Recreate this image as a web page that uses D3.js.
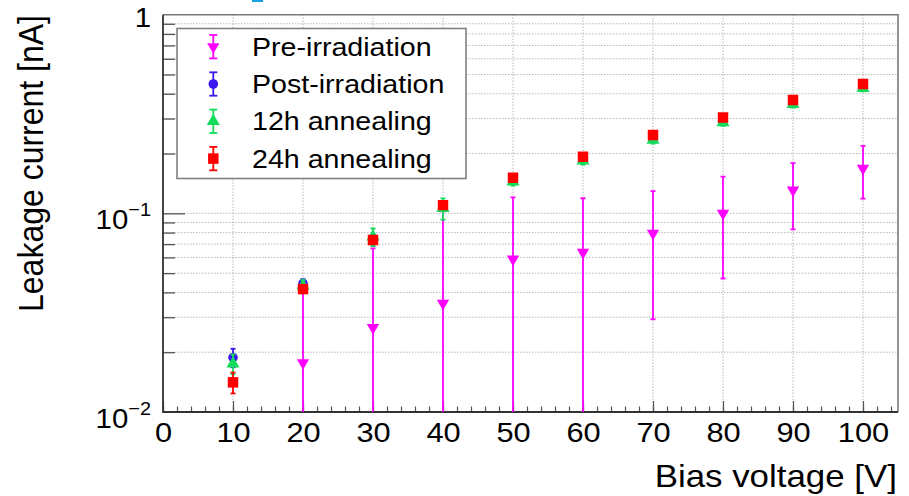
<!DOCTYPE html>
<html>
<head>
<meta charset="utf-8">
<script src="https://cdn.jsdelivr.net/npm/d3@7"></script>
<style>
  html, body { margin: 0; padding: 0; background: #fff; }
  svg { display: block; font-family: "Liberation Sans", Arial, Helvetica, sans-serif; }
</style>
</head>
<body>
<svg id="chart" width="909" height="496"></svg>
<script>
// Bias voltage points [V]
const voltages = [10, 20, 30, 40, 50, 60, 70, 80, 90, 100];
const preVoltages = [20, 30, 40, 50, 60, 70, 80, 90, 100];

// Leakage current [nA] and uncertainties
const preValues  = [0.0177, 0.0266, 0.0352, 0.0589, 0.0636, 0.0793, 0.100, 0.131, 0.1685];
const preErrors  = [0.024, 0.040, 0.067, 0.0615, 0.0555, 0.050, 0.053, 0.048, 0.050];

const postValues = [0.0188, 0.0444, 0.0748, 0.107, 0.146, 0.186, 0.237, 0.290, 0.359, 0.437];
const postErrors = [0.0020, 0.0022, 0.0030, 0.0045, 0.0055, 0.0070, 0.0085, 0.010, 0.012, 0.014];

const h12Values  = [0.0175, 0.0432, 0.0762, 0.106, 0.1443, 0.184, 0.234, 0.287, 0.354, 0.426];
const h12Errors  = [0.0020, 0.0030, 0.0077, 0.013, 0.0065, 0.0080, 0.0095, 0.011, 0.013, 0.015];

const h24Values  = [0.0141, 0.0416, 0.0734, 0.110, 0.1511, 0.1927, 0.2478, 0.304, 0.3717, 0.4474];
const h24Errors  = [0.0017, 0.0020, 0.0030, 0.0045, 0.0060, 0.0075, 0.0095, 0.011, 0.013, 0.016];

// Axis ticks
const xMajorTicks = [0, 10, 20, 30, 40, 50, 60, 70, 80, 90, 100];
const xMinorTicks = d3.range(0, 105, 2);
const yMajorTicks = [0.01, 0.1, 1];
const yMinorTicks = [0.02, 0.03, 0.04, 0.05, 0.06, 0.07, 0.08, 0.09, 0.2, 0.3, 0.4, 0.5, 0.6, 0.7, 0.8, 0.9];
const yTickLabels = [{ base: "10", exp: "\u22122" }, { base: "10", exp: "\u22121" }, { base: "1", exp: "" }];

const legendLabels = ["Pre-irradiation", "Post-irradiation", "12h annealing", "24h annealing"];

const colors = { pre: "#ff00ff", post: "#3a16f0", h12: "#14dc5a", h24: "#ff0000" };

const svg = d3.select("#chart");
const L = 163, R = 898, T = 14.7, B = 412;

const x = d3.scaleLinear().domain([0, 105]).range([L, R]);
const y = d3.scaleLog().domain([0.01, 1]).range([B, T]);

// Small cyan fragment at the top edge
svg.append("rect").attr("x", 252).attr("y", 0).attr("width", 11).attr("height", 2).attr("fill", "#1aa0e6");

// Grid
const grid = svg.append("g").attr("stroke", "#b8b8b8").attr("stroke-width", 1).attr("stroke-dasharray", "1.5,1.5");
grid.selectAll("line.v").data(xMajorTicks.filter(d => d > 0)).join("line")
  .attr("x1", d => x(d)).attr("x2", d => x(d)).attr("y1", B).attr("y2", T);
grid.selectAll("line.h").data(yMinorTicks.concat([0.1])).join("line")
  .attr("x1", L).attr("x2", R).attr("y1", d => y(d)).attr("y2", d => y(d));

// Frame (top and right)
svg.append("path").attr("d", `M${L},${T}H${R}V${B}`).attr("fill", "none").attr("stroke", "#7a7a7a").attr("stroke-width", 1.6);

// X axis (ticks point inward)
const xMajor = d3.axisBottom(x).tickValues(xMajorTicks).tickSizeInner(-11).tickSizeOuter(0).tickFormat(d3.format("d"));
const xMinor = d3.axisBottom(x).tickValues(xMinorTicks).tickSizeInner(-5.5).tickSizeOuter(0).tickFormat("");
const gxm = svg.append("g").attr("transform", `translate(0,${B})`).call(xMinor);
const gx = svg.append("g").attr("transform", `translate(0,${B})`).call(xMajor);
[gxm, gx].forEach(g => {
  g.select(".domain").remove();
  g.selectAll(".tick line").attr("stroke", "#555").attr("stroke-width", 1.2);
});
gx.selectAll(".tick text")
  .attr("y", 30).attr("dy", 0)
  .attr("font-size", 28).attr("fill", "#000")
  .attr("font-family", "Liberation Sans, Arial, sans-serif")
  .attr("transform", "scale(1.1,1)");

// Y axis (ticks point inward)
const yMajor = d3.axisLeft(y).tickValues([0.1]).tickSizeInner(-22).tickSizeOuter(0).tickFormat("");
const yMinor = d3.axisLeft(y).tickValues(yMinorTicks).tickSizeInner(-12).tickSizeOuter(0).tickFormat("");
const gym = svg.append("g").attr("transform", `translate(${L},0)`).call(yMinor);
const gy = svg.append("g").attr("transform", `translate(${L},0)`).call(yMajor);
[gym, gy].forEach(g => {
  g.select(".domain").remove();
  g.selectAll(".tick line").attr("stroke", "#555").attr("stroke-width", 1.3);
});

// Y tick labels with superscripts
const yLab = svg.append("g").selectAll("text").data(yMajorTicks).join("text")
  .attr("text-anchor", "end")
  .attr("font-size", 28)
  .attr("fill", "#000")
  .attr("transform", d => `translate(${L - 12},${y(d) + (d === 1 ? 12.5 : 15.5)}) scale(1.05,1)`);
yLab.each(function (d, i) {
  const t = d3.select(this);
  const lab = yTickLabels[i];
  t.append("tspan").text(lab.base);
  if (lab.exp) t.append("tspan").attr("dy", -13).attr("font-size", 19).text(lab.exp);
});

// Axis lines (left and bottom)
svg.append("path").attr("d", `M${L},${T}V${B}H${R}`).attr("fill", "none").attr("stroke", "#333").attr("stroke-width", 1.8);

// Axis titles
svg.append("text")
  .attr("text-anchor", "end")
  .attr("font-size", 32)
  .attr("transform", `translate(897,487) scale(1.09,1)`)
  .text("Bias voltage [V]");
svg.append("text")
  .attr("text-anchor", "end")
  .attr("font-size", 32)
  .attr("transform", `translate(43,15) scale(1.1,1) rotate(-90)`)
  .text("Leakage current [nA]");

// Marker shapes
const sym = {
  pre:  d3.symbol().type(d3.symbolTriangle).size(66),
  post: d3.symbol().type(d3.symbolCircle).size(72),
  h12:  d3.symbol().type(d3.symbolTriangle).size(74),
  h24:  d3.symbol().type(d3.symbolSquare).size(110)
};

function markerPath(key) {
  return sym[key]();
}

const plot = svg.append("g");
plot.append("clipPath").attr("id", "plotClip").append("rect")
  .attr("x", L).attr("y", T).attr("width", R - L).attr("height", B - T);
const clipped = plot.append("g").attr("clip-path", "url(#plotClip)");

function drawSeries(key, xs, vals, errs) {
  const color = colors[key];
  const g = clipped.append("g");
  const pts = xs.map((v, i) => ({ v, val: vals[i], err: errs[i] }));
  const cap = 2.5;
  pts.forEach(p => {
    const lo = p.val - p.err, hi = p.val + p.err;
    const yHi = y(hi);
    const yLo = lo > 0.01 ? y(lo) : B + 2;
    const cx = x(p.v);
    g.append("line").attr("x1", cx).attr("x2", cx).attr("y1", yHi).attr("y2", yLo)
      .attr("stroke", color).attr("stroke-width", 1.8);
    g.append("line").attr("x1", cx - cap).attr("x2", cx + cap).attr("y1", yHi).attr("y2", yHi)
      .attr("stroke", color).attr("stroke-width", 1.8);
    if (lo > 0.01) {
      g.append("line").attr("x1", cx - cap).attr("x2", cx + cap).attr("y1", yLo).attr("y2", yLo)
        .attr("stroke", color).attr("stroke-width", 1.8);
    }
  });
  g.selectAll("path.m").data(pts).join("path")
    .attr("d", markerPath(key))
    .attr("transform", d => `translate(${x(d.v)},${y(d.val)})` + (key === "pre" ? " rotate(180)" : ""))
    .attr("fill", color);
}

drawSeries("pre", preVoltages, preValues, preErrors);
drawSeries("post", voltages, postValues, postErrors);
drawSeries("h12", voltages, h12Values, h12Errors);
drawSeries("h24", voltages, h24Values, h24Errors);

// Legend
const legend = svg.append("g");
legend.append("rect").attr("x", 177).attr("y", 28.5).attr("width", 289).attr("height", 150)
  .attr("fill", "#fff").attr("stroke", "#808080").attr("stroke-width", 1.6);
const keys = ["pre", "post", "h12", "h24"];
keys.forEach((k, i) => {
  const cy = 46.7 + i * 37.3;
  const mx = 213.3;
  const c = colors[k];
  legend.append("line").attr("x1", mx).attr("x2", mx).attr("y1", cy - 11.7).attr("y2", cy + 11.7).attr("stroke", c).attr("stroke-width", 1.8);
  legend.append("line").attr("x1", mx - 4).attr("x2", mx + 4).attr("y1", cy - 11.7).attr("y2", cy - 11.7).attr("stroke", c).attr("stroke-width", 1.8);
  legend.append("line").attr("x1", mx - 4).attr("x2", mx + 4).attr("y1", cy + 11.7).attr("y2", cy + 11.7).attr("stroke", c).attr("stroke-width", 1.8);
  legend.append("path").attr("d", markerPath(k))
    .attr("transform", `translate(${mx},${cy})` + (k === "pre" ? " rotate(180)" : ""))
    .attr("fill", c);
  legend.append("text")
    .attr("font-size", 26)
    .attr("transform", `translate(252,${cy + 9}) scale(1.1,1)`)
    .text(legendLabels[i]);
});
</script>
</body>
</html>
